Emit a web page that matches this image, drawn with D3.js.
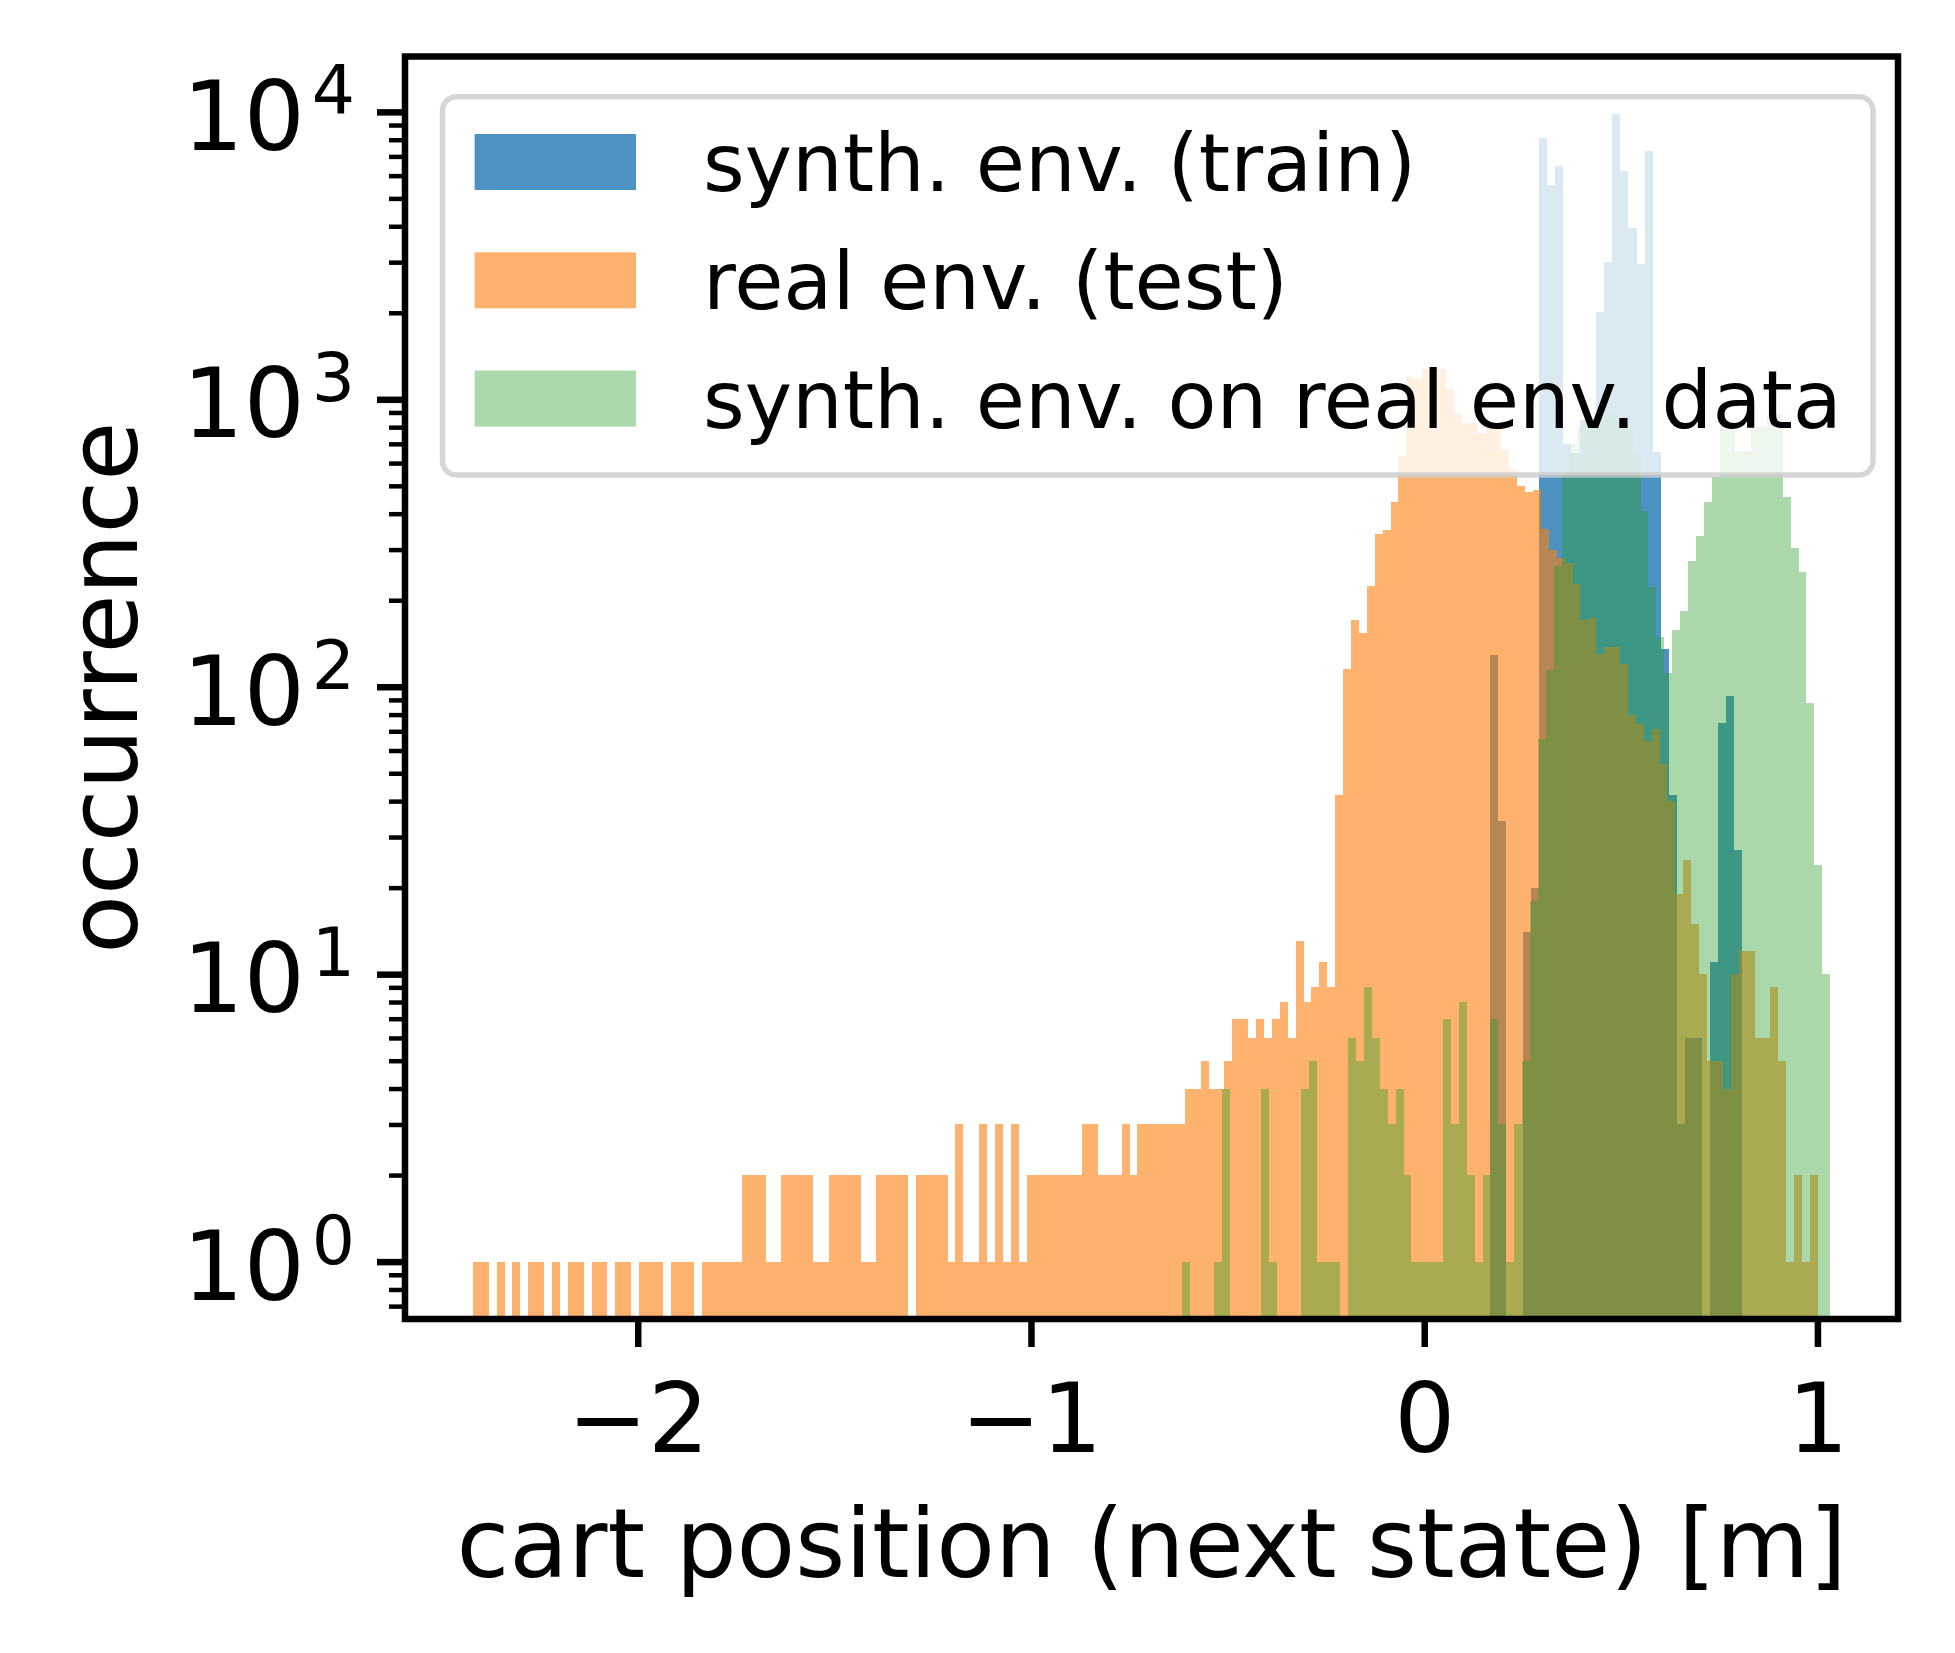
<!DOCTYPE html>
<html>
<head>
<meta charset="utf-8">
<script src="https://cdn.jsdelivr.net/npm/d3@7"></script>
<style>
body { margin: 0; background: #fff; }
text { font-family: "DejaVu Sans", sans-serif; fill: #000; }
</style>
</head>
<body>
<div id="chart"></div>
<script>
/* Data: first bin edge and bin width [m], then counts per bin */
var trainStart = 0.1672;
var trainWidth = 0.02071;
var trainCounts = [129, 34, 0, 0, 14, 20, 8120, 5560, 6490, 700,
	650, 850, 850, 2020, 3010, 9840, 6210, 3930, 2950, 7300,
	656, 135, 42, 3, 6, 6, 0, 11, 75, 93,
	27];

var testStart = -2.4193;
var testWidth = 0.020119;
var testCounts = [1, 1, 0, 1, 0, 1, 0, 1, 1, 0,
	1, 0, 1, 1, 0, 1, 1, 0, 1, 1,
	0, 1, 1, 1, 0, 1, 1, 1, 0, 1,
	1, 1, 1, 1, 2, 2, 2, 1, 1, 2,
	2, 2, 2, 1, 1, 2, 2, 2, 2, 1,
	1, 2, 2, 2, 2, 0, 2, 2, 2, 2,
	1, 3, 1, 1, 3, 1, 3, 1, 3, 1,
	2, 2, 2, 2, 2, 2, 2, 3, 3, 2,
	2, 2, 3, 2, 3, 3, 3, 3, 3, 3,
	4, 4, 5, 4, 4, 5, 7, 7, 6, 7,
	6, 7, 8, 6, 13, 8, 9, 11, 9, 42,
	115, 171, 154, 225, 340, 352, 440, 635, 1200, 1180,
	1270, 1270, 1270, 1090, 894, 826, 826, 761, 819, 819,
	665, 574, 500, 477, 484, 355, 300, 280, 269, 227,
	171, 174, 130, 137, 137, 120, 80, 74, 65, 71,
	54, 40, 19, 25, 15, 10, 5, 5, 4, 10,
	12, 12, 6, 6, 9, 5, 1, 2, 1, 2];

var synthStart = -0.6150;
var synthWidth = 0.020089;
var synthCounts = [1, 0, 0, 0, 1, 4, 0, 0, 0, 0,
	4, 1, 0, 0, 0, 4, 5, 1, 1, 1,
	0, 6, 5, 9, 6, 4, 3, 4, 2, 1,
	1, 1, 1, 7, 3, 8, 2, 1, 2, 7,
	3, 1, 3, 5, 18, 66, 114, 264, 560, 700,
	800, 850, 900, 880, 900, 850, 800, 650, 409, 223,
	149, 112, 157, 184, 274, 335, 438, 535, 790, 790,
	660, 660, 800, 800, 890, 890, 459, 303, 250, 88,
	24, 10];

var seriesNames = ["synth. env. (train)", "real env. (test)", "synth. env. on real env. data"];
var xTicks = [-2, -1, 0, 1];
var yTicks = [1, 10, 100, 1000, 10000];
var xLabel = "cart position (next state) [m]";
var yLabel = "occurrence";

var width = 1955;
var height = 1653;
var plotLeft = 405, plotRight = 1898, plotTop = 56.5, plotBottom = 1319;

var colors = ["#1f77b4", "#ff7f0e", "#2ca02c"];
var alphas = [0.8, 0.6, 0.4];

function toBins(start, w, counts) {
	return counts.map(function(c, i) {
		return {x0: start + i * w, x1: start + (i + 1) * w, n: c};
	});
}

var series = [
	toBins(trainStart, trainWidth, trainCounts),
	toBins(testStart, testWidth, testCounts),
	toBins(synthStart, synthWidth, synthCounts)
];

/* Scales, with 5% margins like matplotlib */
var allBins = d3.merge(series);
var xMin = d3.min(allBins, d => d.x0);
var xMax = d3.max(allBins, d => d.x1);
var xPad = (xMax - xMin) * 0.05;
var xScale = d3.scaleLinear()
	.domain([xMin - xPad, xMax + xPad])
	.range([plotLeft, plotRight]);

var hiLog = Math.log10(d3.max(allBins, d => d.n));
var loLog = 0;
var yPad = (hiLog - loLog) * 0.05;
var yScale = d3.scaleLog()
	.domain([Math.pow(10, loLog - yPad), Math.pow(10, hiLog + yPad)])
	.range([plotBottom, plotTop]);

var svg = d3.select("#chart").append("svg")
	.attr("width", width)
	.attr("height", height);

/* Bars: one group per series so the alpha is applied once */
series.forEach(function(bins, s) {
	svg.append("g")
		.attr("opacity", alphas[s])
		.selectAll("rect")
		.data(bins.filter(d => d.n > 0)).enter()
		.append("rect")
		.attr("x", d => xScale(d.x0))
		.attr("width", d => xScale(d.x1) - xScale(d.x0))
		.attr("y", d => yScale(d.n))
		.attr("height", d => plotBottom - yScale(d.n))
		.attr("fill", colors[s])
		.attr("shape-rendering", "crispEdges");
});

/* Axes */
var xAxis = d3.axisBottom(xScale)
	.tickValues(xTicks)
	.tickFormat(d3.format("d"))
	.tickSize(28)
	.tickSizeOuter(0)
	.tickPadding(37);

var gx = svg.append("g")
	.attr("transform", `translate(0, ${plotBottom})`)
	.call(xAxis);
gx.select(".domain").remove();
gx.selectAll("line").attr("stroke", "#000").attr("stroke-width", 6.5);
gx.selectAll("text")
	.attr("fill", "#000")
	.attr("font-family", "DejaVu Sans")
	.attr("font-size", 96);

var minorTicks = [];
yTicks.concat([100000]).forEach(function(v) {
	d3.range(2, 10).forEach(function(m) { minorTicks.push(v / 10 * m); });
});
var yDomain = yScale.domain();
minorTicks = minorTicks.filter(v => v >= yDomain[0] && v <= yDomain[1]);

var gyMinor = svg.append("g")
	.attr("transform", `translate(${plotLeft}, 0)`)
	.call(d3.axisLeft(yScale).tickValues(minorTicks).tickSize(16).tickSizeOuter(0).tickFormat(""));
gyMinor.select(".domain").remove();
gyMinor.selectAll("line").attr("stroke", "#000").attr("stroke-width", 4.5);

var gy = svg.append("g")
	.attr("transform", `translate(${plotLeft}, 0)`)
	.call(d3.axisLeft(yScale).tickValues(yTicks).tickSize(28).tickSizeOuter(0).tickFormat(""));
gy.select(".domain").remove();
gy.selectAll("line").attr("stroke", "#000").attr("stroke-width", 6.5);

var yLabels = svg.append("g")
	.selectAll("text")
	.data(yTicks).enter()
	.append("text")
	.attr("x", 355)
	.attr("y", d => yScale(d) + 38)
	.attr("text-anchor", "end")
	.attr("font-size", 96)
	.text("10");
yLabels.append("tspan")
	.attr("dx", 7)
	.attr("dy", -36)
	.attr("font-size", 68)
	.text(d => Math.round(Math.log10(d)));

/* Spines */
svg.append("rect")
	.attr("x", plotLeft)
	.attr("y", plotTop)
	.attr("width", plotRight - plotLeft)
	.attr("height", plotBottom - plotTop)
	.attr("fill", "none")
	.attr("stroke", "#000")
	.attr("stroke-width", 6.5);

/* Axis labels */
svg.append("text")
	.attr("x", (plotLeft + plotRight) / 2)
	.attr("y", 1577)
	.attr("text-anchor", "middle")
	.attr("font-size", 96)
	.text(xLabel);

svg.append("text")
	.attr("transform", `translate(137, ${(plotTop + plotBottom) / 2}) rotate(-90)`)
	.attr("text-anchor", "middle")
	.attr("font-size", 96)
	.text(yLabel);

/* Legend */
var legend = svg.append("g");
legend.append("rect")
	.attr("x", 442.5)
	.attr("y", 96.7)
	.attr("width", 1430.5)
	.attr("height", 378.3)
	.attr("rx", 14)
	.attr("fill", "#fff")
	.attr("fill-opacity", 0.8)
	.attr("stroke", "#ccc")
	.attr("stroke-opacity", 0.8)
	.attr("stroke-width", 5.5);

var rows = legend.selectAll(".row")
	.data(seriesNames).enter()
	.append("g")
	.attr("class", "row")
	.attr("transform", (d, i) => `translate(0, ${162 + i * 118.3})`);

rows.append("rect")
	.attr("x", 474.6)
	.attr("y", -28)
	.attr("width", 161.4)
	.attr("height", 56)
	.attr("fill", (d, i) => colors[i])
	.attr("opacity", (d, i) => alphas[i]);

rows.append("text")
	.attr("x", 703)
	.attr("y", 29)
	.attr("font-size", 80)
	.text(d => d);
</script>
</body>
</html>
